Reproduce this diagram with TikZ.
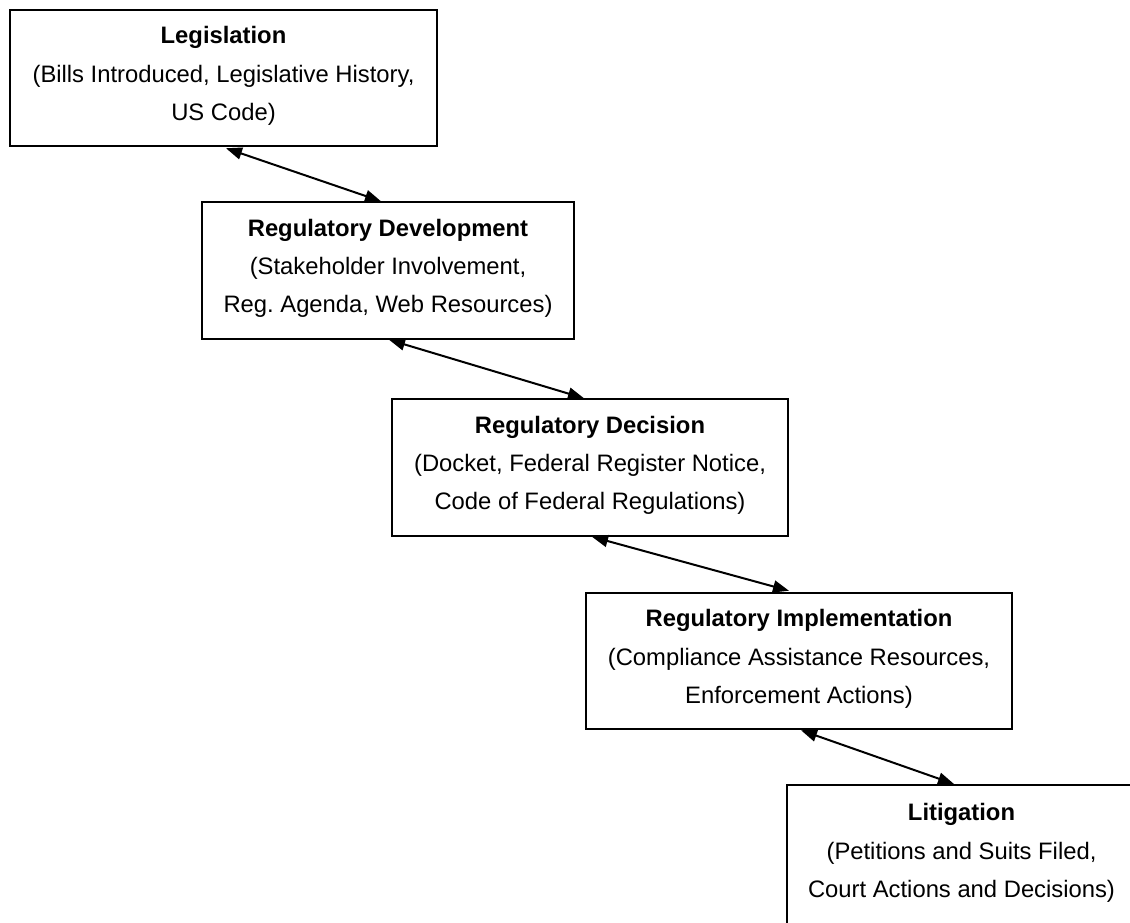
\documentclass[tikz,border=0pt]{standalone}
\usepackage{fontspec}
\setmainfont{Liberation Sans}
\usetikzlibrary{arrows.meta,calc}
\frenchspacing
\newcommand{\lowstrut}{\rule[-9pt]{0pt}{0pt}}
\begin{document}
\begin{tikzpicture}[x=1pt,y=-1pt,
  box/.style={draw, line width=2pt, minimum height=136.5pt, inner sep=0pt, align=center,
    font=\fontsize{23.8pt}{38.3pt}\selectfont},
  link/.style={line width=2pt, {Triangle[length=16pt,width=12pt]}-{Triangle[length=16pt,width=12pt]}}
]
\useasboundingbox (0,0) rectangle (1130,922);
\node[box, minimum width=427pt] (b1) at (223.5,78) {\textbf{Legislation}\\(Bills Introduced, Legislative History,\\US Code)\lowstrut};
\node[box, minimum width=372pt] (b2) at (388,270.5) {\textbf{Regulatory Development}\\(Stakeholder Involvement,\\Reg. Agenda, Web Resources)\lowstrut};
\node[box, minimum width=396pt] (b3) at (590,467.5) {\textbf{Regulatory Decision}\\(Docket, Federal Register Notice,\\Code of Federal Regulations)\lowstrut};
\node[box, minimum width=426pt] (b4) at (799,661) {\textbf{Regulatory Implementation}\\(Compliance Assistance Resources,\\Enforcement Actions)\lowstrut};
\node[box, minimum width=349pt, minimum height=140pt] (b5) at (961.5,855) {\textbf{Litigation}\\(Petitions and Suits Filed,\\Court Actions and Decisions)\lowstrut};
\draw[link] ($(b1.south west)+(217,1)$) -- ($(b2.north west)+(180,0)$);
\draw[link] ($(b2.south west)+(188,0)$) -- ($(b3.north west)+(193,0)$);
\draw[link] ($(b3.south west)+(201,0)$) -- ($(b4.north west)+(204,-1)$);
\draw[link] ($(b4.south west)+(216,0)$) -- ($(b5.north west)+(168,0)$);
\end{tikzpicture}
\end{document}
